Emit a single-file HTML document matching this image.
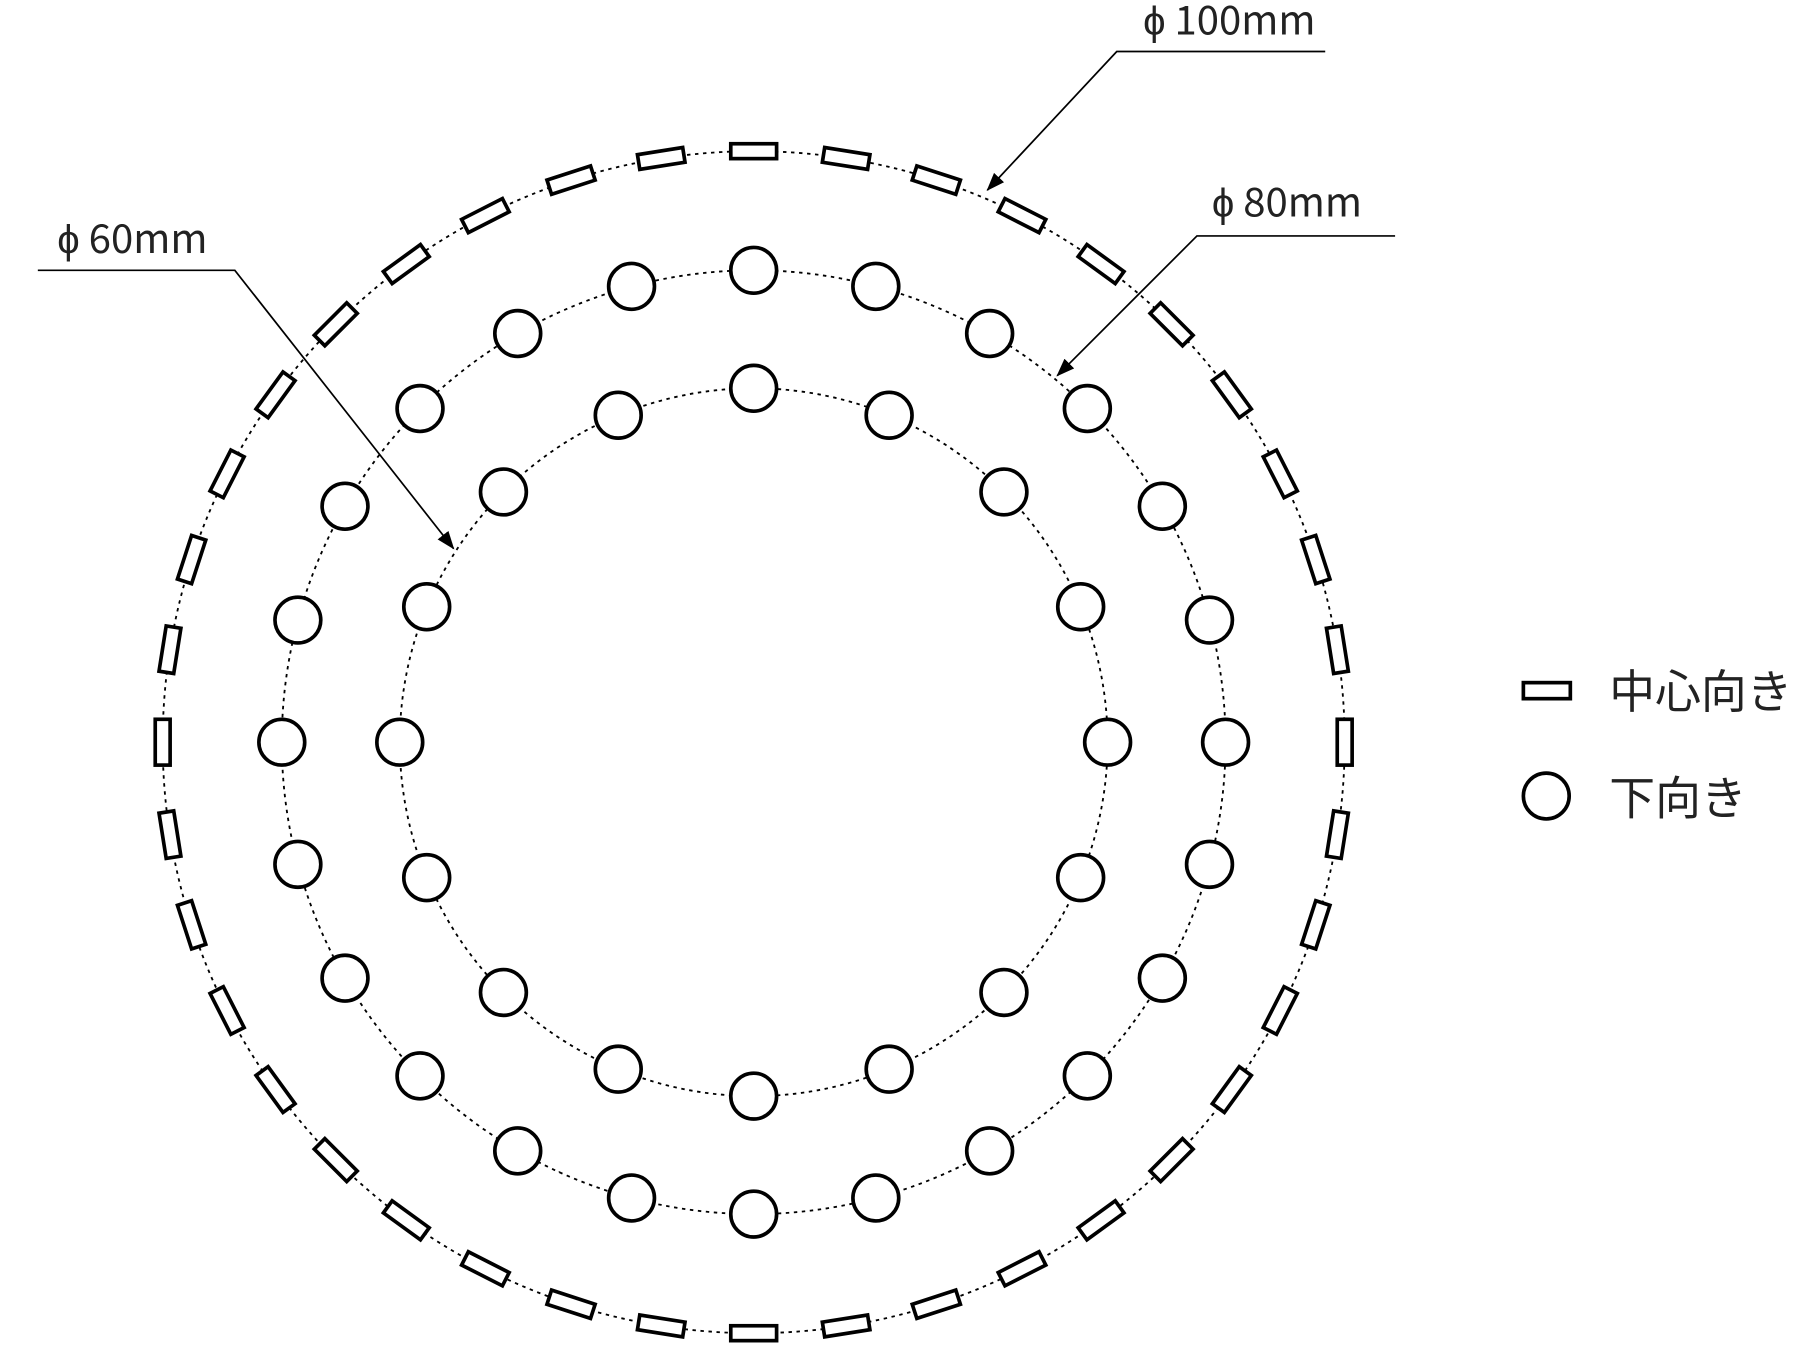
<!DOCTYPE html>
<html><head><meta charset="utf-8">
<style>
html,body{margin:0;padding:0;background:#fff;}
svg{display:block;}
text{font-family:"Noto Sans CJK JP","Liberation Sans",sans-serif;fill:#222;}
</style></head>
<body>
<svg id="s" width="1796" height="1345" viewBox="0 0 1568 1174.3" xmlns="http://www.w3.org/2000/svg">
<defs>
<marker id="ah" markerWidth="16" markerHeight="12" refX="15" refY="6" orient="auto" markerUnits="userSpaceOnUse" viewBox="0 0 16 12">
<path d="M0,0 L16,6 L0,12 z" fill="#000"/>
</marker>
</defs>
<rect width="1568" height="1175" fill="#fff"/>
<g fill="none" stroke="#000" stroke-width="1.6" stroke-dasharray="3,4">
<circle cx="658" cy="648" r="516"/>
<circle cx="658" cy="648" r="412"/>
<circle cx="658" cy="648" r="309"/>
</g>
<g id="shapes" fill="#fff" stroke="#000" stroke-width="3.2"></g>
<g stroke="#000" stroke-width="1.5" fill="none">
<polyline points="1157,45 975,45 862,166" marker-end="url(#ah)"/>
<polyline points="1218,206 1045,206 923,328" marker-end="url(#ah)"/>
<polyline points="33,236 205,236 396,479" marker-end="url(#ah)"/>
</g>
<text x="998" y="30" font-size="35">ϕ 100mm</text>
<text x="1058" y="189" font-size="35">ϕ 80mm</text>
<text x="50" y="221" font-size="35">ϕ 60mm</text>
<rect x="1330" y="596" width="41" height="14" fill="#fff" stroke="#000" stroke-width="3.2"/>
<text x="1405" y="618" font-size="40">中心向き</text>
<circle cx="1350" cy="695" r="20" fill="#fff" stroke="#000" stroke-width="3.2"/>
<text x="1405" y="711" font-size="40">下向き</text>
</svg>
<script>
var g=document.getElementById('shapes'),ns='http://www.w3.org/2000/svg',cx=658,cy=648;
function c(x,y){var e=document.createElementNS(ns,'circle');e.setAttribute('cx',x);e.setAttribute('cy',y);e.setAttribute('r',20);g.appendChild(e);}
for(var i=0;i<24;i++){var a=i*15*Math.PI/180;c(cx+412*Math.sin(a),cy-412*Math.cos(a));}
for(var i=0;i<16;i++){var a=i*22.5*Math.PI/180;c(cx+309*Math.sin(a),cy-309*Math.cos(a));}
for(var i=0;i<40;i++){var d=i*9,a=d*Math.PI/180;var x=cx+516*Math.sin(a),y=cy-516*Math.cos(a);
var r=document.createElementNS(ns,'rect');r.setAttribute('x',-20);r.setAttribute('y',-6.5);r.setAttribute('width',40);r.setAttribute('height',13);
r.setAttribute('transform','translate('+x+','+y+') rotate('+d+')');g.appendChild(r);}
</script>
</body></html>
